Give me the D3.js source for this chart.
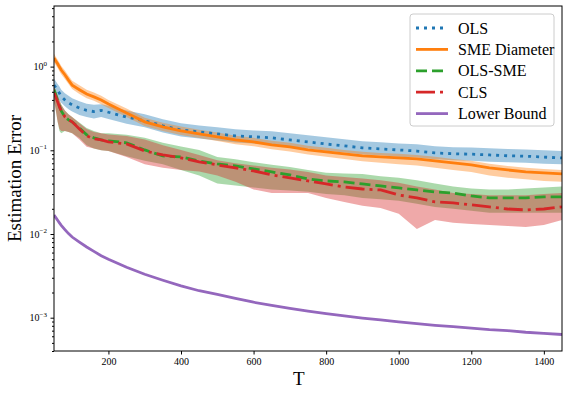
<!DOCTYPE html>
<html>
<head>
<meta charset="utf-8">
<script src="https://cdn.jsdelivr.net/npm/d3@7"></script>
<style>
  body { margin: 0; background: #fff; }
  svg { display: block; font-family: "Liberation Serif", "Times New Roman", serif; }
  .axis text { font-family: "Liberation Serif", "Times New Roman", serif; }
</style>
</head>
<body>
<div id="chart"></div>
<script>
// horizon T where each curve was sampled
const T = [50, 55, 60, 65, 70, 80, 90, 100, 120, 140, 160, 180, 200, 250, 300, 350, 400, 450, 500, 550,
    600, 650, 700, 750, 800, 850, 900, 950, 1000, 1050, 1100, 1150, 1200, 1250, 1300, 1350, 1400, 1450];

// OLS
const olsMean = [0.60, 0.56, 0.52, 0.48, 0.44, 0.40, 0.37, 0.35, 0.32, 0.30, 0.29, 0.30, 0.285, 0.25, 0.225, 0.196, 0.175, 0.166, 0.157, 0.149,
    0.145, 0.141, 0.133, 0.126, 0.119, 0.113, 0.107, 0.104, 0.101, 0.098, 0.093, 0.091, 0.090, 0.088, 0.086, 0.085, 0.083, 0.081];
const olsHi = [0.72, 0.67, 0.62, 0.58, 0.53, 0.48, 0.45, 0.42, 0.385, 0.36, 0.35, 0.355, 0.34, 0.30, 0.27, 0.235, 0.21, 0.198, 0.188, 0.178,
    0.173, 0.169, 0.160, 0.151, 0.143, 0.136, 0.128, 0.125, 0.121, 0.118, 0.112, 0.109, 0.108, 0.106, 0.104, 0.102, 0.100, 0.098];
const olsLo = [0.50, 0.47, 0.43, 0.40, 0.37, 0.335, 0.31, 0.29, 0.265, 0.25, 0.24, 0.25, 0.237, 0.208, 0.188, 0.163, 0.146, 0.138, 0.131, 0.124,
    0.121, 0.118, 0.111, 0.105, 0.099, 0.094, 0.089, 0.087, 0.084, 0.082, 0.078, 0.076, 0.075, 0.073, 0.072, 0.071, 0.069, 0.068];

// SME Diameter
const smeMean = [1.27, 1.17, 1.08, 0.99, 0.91, 0.80, 0.69, 0.60, 0.53, 0.47, 0.435, 0.40, 0.358, 0.28, 0.219, 0.191, 0.171, 0.157, 0.145, 0.133,
    0.126, 0.116, 0.110, 0.101, 0.0957, 0.0906, 0.0857, 0.0834, 0.0811, 0.0789, 0.0747, 0.0707, 0.0669, 0.0616, 0.0583, 0.0552, 0.0537, 0.0522];
const smeHi = [1.42, 1.31, 1.21, 1.11, 1.02, 0.90, 0.78, 0.68, 0.60, 0.53, 0.49, 0.45, 0.40, 0.315, 0.245, 0.214, 0.192, 0.176, 0.163, 0.149,
    0.141, 0.130, 0.123, 0.113, 0.107, 0.101, 0.096, 0.093, 0.091, 0.088, 0.084, 0.079, 0.075, 0.069, 0.065, 0.062, 0.060, 0.058];
const smeLo = [1.13, 1.04, 0.96, 0.88, 0.81, 0.71, 0.62, 0.54, 0.47, 0.42, 0.39, 0.355, 0.32, 0.25, 0.195, 0.170, 0.152, 0.140, 0.129, 0.118,
    0.112, 0.103, 0.097, 0.089, 0.084, 0.079, 0.074, 0.071, 0.068, 0.066, 0.062, 0.058, 0.055, 0.050, 0.047, 0.045, 0.043, 0.042];

// OLS-SME
const olsSmeMean = [0.527, 0.459, 0.389, 0.339, 0.295, 0.251, 0.231, 0.219, 0.185, 0.153, 0.141, 0.133, 0.130, 0.123, 0.101, 0.0857, 0.0834, 0.0747, 0.0688, 0.0651,
    0.0599, 0.0552, 0.0508, 0.0455, 0.0431, 0.0419, 0.0396, 0.0375, 0.0355, 0.0336, 0.0318, 0.0309, 0.0285, 0.0270, 0.0270, 0.0270, 0.0277, 0.0277];
const olsSmeHi = [0.60, 0.52, 0.45, 0.40, 0.35, 0.30, 0.27, 0.25, 0.215, 0.185, 0.17, 0.16, 0.16, 0.153, 0.141, 0.123, 0.111, 0.101, 0.083, 0.078,
    0.072, 0.067, 0.063, 0.058, 0.054, 0.053, 0.052, 0.049, 0.047, 0.044, 0.040, 0.037, 0.035, 0.034, 0.034, 0.035, 0.036, 0.037];
const olsSmeLo = [0.40, 0.30, 0.22, 0.17, 0.16, 0.17, 0.165, 0.16, 0.14, 0.115, 0.105, 0.10, 0.098, 0.085, 0.075, 0.068, 0.058, 0.050, 0.040, 0.038,
    0.036, 0.034, 0.033, 0.032, 0.030, 0.029, 0.027, 0.026, 0.025, 0.023, 0.021, 0.020, 0.019, 0.018, 0.018, 0.018, 0.018, 0.018];

// CLS
const clsMean = [0.485, 0.435, 0.379, 0.330, 0.295, 0.251, 0.231, 0.219, 0.180, 0.149, 0.137, 0.133, 0.126, 0.119, 0.0982, 0.0881, 0.0811, 0.0727, 0.0669, 0.0616,
    0.0567, 0.0508, 0.0468, 0.0431, 0.0396, 0.0365, 0.0345, 0.0336, 0.0293, 0.0270, 0.0242, 0.0235, 0.0223, 0.0211, 0.0199, 0.0194, 0.0199, 0.0211];
const clsHi = [0.58, 0.52, 0.45, 0.40, 0.35, 0.30, 0.27, 0.25, 0.21, 0.18, 0.165, 0.16, 0.155, 0.148, 0.135, 0.115, 0.101, 0.088, 0.076, 0.070,
    0.066, 0.062, 0.059, 0.055, 0.050, 0.048, 0.046, 0.044, 0.041, 0.037, 0.034, 0.031, 0.030, 0.029, 0.029, 0.029, 0.030, 0.031];
const clsLo = [0.40, 0.30, 0.22, 0.18, 0.17, 0.17, 0.165, 0.16, 0.135, 0.11, 0.105, 0.10, 0.098, 0.083, 0.068, 0.062, 0.058, 0.056, 0.050, 0.042,
    0.034, 0.031, 0.031, 0.031, 0.027, 0.0242, 0.0217, 0.0205, 0.0175, 0.0115, 0.0147, 0.0136, 0.0132, 0.0128, 0.0125, 0.0121, 0.0128, 0.0147];

// Lower Bound
const lowerBound = [0.0169, 0.0157, 0.0146, 0.0136, 0.0127, 0.0113, 0.0101, 0.0092, 0.0080, 0.0070, 0.0062, 0.0055, 0.0050, 0.0040, 0.0033, 0.0028, 0.0024, 0.0021, 0.0019, 0.00170,
    0.00153, 0.00140, 0.00129, 0.00120, 0.00112, 0.00105, 0.00099, 0.00094, 0.00089, 0.00085, 0.00081, 0.00078, 0.00075, 0.00072, 0.00070, 0.00067, 0.00065, 0.00063];

const xTicks = [200, 400, 600, 800, 1000, 1200, 1400];
const yTicks = [1e-3, 1e-2, 1e-1, 1];

const series = [
    {name: "OLS", mean: olsMean, lo: olsLo, hi: olsHi, color: "#1f77b4", dash: "3,5"},
    {name: "SME Diameter", mean: smeMean, lo: smeLo, hi: smeHi, color: "#ff7f0e", dash: null},
    {name: "OLS-SME", mean: olsSmeMean, lo: olsSmeLo, hi: olsSmeHi, color: "#2ca02c", dash: "11,5"},
    {name: "CLS", mean: clsMean, lo: clsLo, hi: clsHi, color: "#d62728", dash: "19,5,3,5"},
    {name: "Lower Bound", mean: lowerBound, lo: null, hi: null, color: "#9467bd", dash: null}
];

const width = 568, height = 395;
const margin = {top: 6, right: 6, bottom: 44, left: 54};

const svg = d3.select("#chart").append("svg")
    .attr("width", width)
    .attr("height", height);

const x = d3.scaleLinear()
    .domain([50, 1450])
    .range([margin.left, width - margin.right]);

const y = d3.scaleLog()
    .domain([4.0e-4, 5.3])
    .range([height - margin.bottom, margin.top]);

svg.append("clipPath").attr("id", "plot-clip")
    .append("rect")
    .attr("x", margin.left).attr("y", margin.top)
    .attr("width", width - margin.left - margin.right)
    .attr("height", height - margin.top - margin.bottom);

const plot = svg.append("g").attr("clip-path", "url(#plot-clip)");

// shaded bands first, lines on top (as matplotlib does)
series.filter(s => s.lo).forEach(s => {
    let area = d3.area()
        .x((d, i) => x(T[i]))
        .y0((d, i) => y(s.lo[i]))
        .y1((d, i) => y(s.hi[i]));
    plot.append("path")
        .datum(s.mean)
        .attr("d", area)
        .attr("fill", s.color)
        .attr("fill-opacity", 0.4);
});

series.forEach(s => {
    let line = d3.line()
        .x((d, i) => x(T[i]))
        .y(d => y(d));
    plot.append("path")
        .datum(s.mean)
        .attr("d", line)
        .attr("fill", "none")
        .attr("stroke", s.color)
        .attr("stroke-width", 2.8)
        .attr("stroke-dasharray", s.dash);
});

// x axis
const xAxis = d3.axisBottom(x).tickValues(xTicks).tickSize(3.5).tickPadding(3.5).tickFormat(d3.format("d"));
svg.append("g")
    .attr("class", "axis")
    .attr("transform", `translate(0, ${height - margin.bottom})`)
    .call(xAxis)
    .call(g => g.select(".domain").remove())
    .call(g => g.selectAll("text").attr("font-size", 10).attr("fill", "#000"));

// y axis, major ticks with 10^k labels
const yAxis = d3.axisLeft(y).tickValues(yTicks).tickSize(3.5).tickPadding(3.5).tickFormat("");
svg.append("g")
    .attr("class", "axis")
    .attr("transform", `translate(${margin.left}, 0)`)
    .call(yAxis)
    .call(g => g.select(".domain").remove());

yTicks.forEach(v => {
    let exp = Math.round(Math.log10(v));
    let t = svg.append("text")
        .attr("x", margin.left - 7)
        .attr("y", y(v) + 3.5)
        .attr("text-anchor", "end")
        .attr("font-size", 10);
    t.append("tspan").text("10");
    t.append("tspan").attr("dy", -4.5).attr("font-size", 7).text(exp === 0 ? "0" : "\u2212" + Math.abs(exp));
});

// minor ticks
const minorTicks = [];
for (let e = -4; e <= 0; e++) {
    for (let m = 2; m <= 9; m++) {
        let v = m * Math.pow(10, e);
        if (v >= y.domain()[0] && v <= y.domain()[1]) minorTicks.push(v);
    }
}
svg.append("g")
    .attr("transform", `translate(${margin.left}, 0)`)
    .call(d3.axisLeft(y).tickValues(minorTicks).tickSize(2).tickFormat(""))
    .call(g => g.select(".domain").remove());

// frame
svg.append("rect")
    .attr("x", margin.left).attr("y", margin.top)
    .attr("width", width - margin.left - margin.right)
    .attr("height", height - margin.top - margin.bottom)
    .attr("fill", "none")
    .attr("stroke", "#000")
    .attr("stroke-width", 1);

// axis labels
svg.append("text")
    .attr("x", x(725))
    .attr("y", 385)
    .attr("text-anchor", "middle")
    .attr("font-size", 19)
    .text("T");

svg.append("text")
    .attr("transform", `translate(21, ${(margin.top + height - margin.bottom) / 2}) rotate(-90)`)
    .attr("text-anchor", "middle")
    .attr("font-size", 19)
    .text("Estimation Error");

// legend
const legend = svg.append("g");
legend.append("rect")
    .attr("x", 410).attr("y", 14)
    .attr("width", 144).attr("height", 112)
    .attr("rx", 3)
    .attr("fill", "#fff").attr("fill-opacity", 0.8)
    .attr("stroke", "#cccccc");

series.forEach((s, i) => {
    let ly = 28 + i * 21.4;
    legend.append("line")
        .attr("x1", 416).attr("x2", 448)
        .attr("y1", ly).attr("y2", ly)
        .attr("stroke", s.color)
        .attr("stroke-width", 2.8)
        .attr("stroke-dasharray", s.dash);
    legend.append("text")
        .attr("x", 458)
        .attr("y", ly + 5.5)
        .attr("font-size", 16)
        .text(s.name);
});
</script>
</body>
</html>
